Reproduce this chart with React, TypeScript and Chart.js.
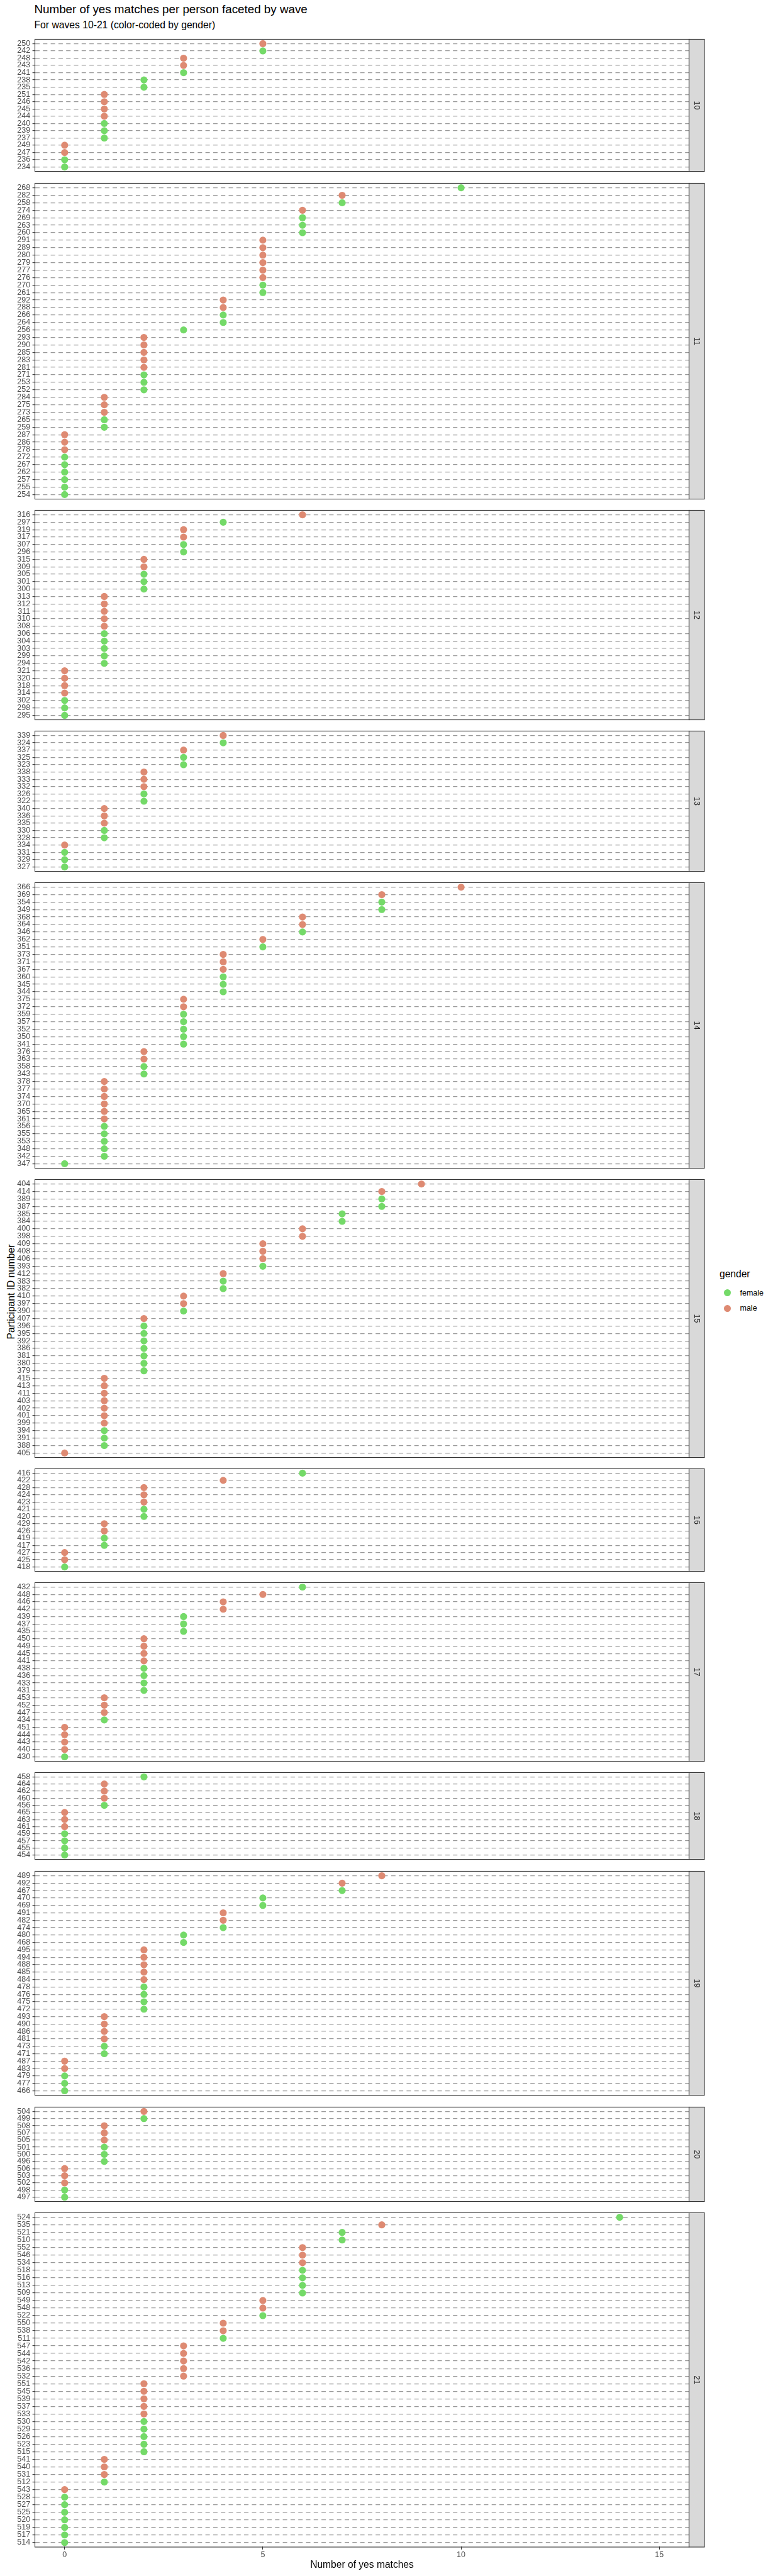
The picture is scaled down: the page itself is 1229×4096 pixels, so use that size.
import { useEffect, useRef } from 'react';
import { Chart, registerables } from 'chart.js';

Chart.register(...registerables);

const FONT = '"Liberation Sans", Arial, Helvetica, sans-serif';

// ---------------- DATA ----------------
const waveNumbers = [10, 11, 12, 13, 14, 15, 16, 17, 18, 19, 20, 21];
const xTickValues = [0, 5, 10, 15];
const genderLevels = ['female', 'male'];

const wave10Ids = ['250','242','248','243','241','238','235','251','246','245','244','240','239','237','249','247','236','234'];
const wave10Matches = [5,5,3,3,3,2,2,1,1,1,1,1,1,1,0,0,0,0];
const wave10Gender = ['M','F','M','M','F','F','F','M','M','M','M','F','F','F','M','M','F','F'];

const wave11Ids = ['268','282','258','274','269','263','260','291','289','280','279','277','276','270','261','292','288','266','264','256','293','290','285','283','281','271','253','252','284','275','273','265','259','287','286','278','272','267','262','257','255','254'];
const wave11Matches = [10,7,7,6,6,6,6,5,5,5,5,5,5,5,5,4,4,4,4,3,2,2,2,2,2,2,2,2,1,1,1,1,1,0,0,0,0,0,0,0,0,0];
const wave11Gender = ['F','M','F','M','F','F','F','M','M','M','M','M','M','F','F','M','M','F','F','F','M','M','M','M','M','F','F','F','M','M','M','F','F','M','M','M','F','F','F','F','F','F'];

const wave12Ids = ['316','297','319','317','307','296','315','309','305','301','300','313','312','311','310','308','306','304','303','299','294','321','320','318','314','302','298','295'];
const wave12Matches = [6,4,3,3,3,3,2,2,2,2,2,1,1,1,1,1,1,1,1,1,1,0,0,0,0,0,0,0];
const wave12Gender = ['M','F','M','M','F','F','M','M','F','F','F','M','M','M','M','M','F','F','F','F','F','M','M','M','M','F','F','F'];

const wave13Ids = ['339','324','337','325','323','338','333','332','326','322','340','336','335','330','328','334','331','329','327'];
const wave13Matches = [4,4,3,3,3,2,2,2,2,2,1,1,1,1,1,0,0,0,0];
const wave13Gender = ['M','F','M','F','F','M','M','M','F','F','M','M','M','F','F','M','F','F','F'];

const wave14Ids = ['366','369','354','349','368','364','346','362','351','373','371','367','360','345','344','375','372','359','357','352','350','341','376','363','358','343','378','377','374','370','365','361','356','355','353','348','342','347'];
const wave14Matches = [10,8,8,8,6,6,6,5,5,4,4,4,4,4,4,3,3,3,3,3,3,3,2,2,2,2,1,1,1,1,1,1,1,1,1,1,1,0];
const wave14Gender = ['M','M','F','F','M','M','F','M','F','M','M','M','F','F','F','M','M','F','F','F','F','F','M','M','F','F','M','M','M','M','M','M','F','F','F','F','F','F'];

const wave15Ids = ['404','414','389','387','385','384','400','398','409','408','406','393','412','383','382','410','397','390','407','396','395','392','386','381','380','379','415','413','411','403','402','401','399','394','391','388','405'];
const wave15Matches = [9,8,8,8,7,7,6,6,5,5,5,5,4,4,4,3,3,3,2,2,2,2,2,2,2,2,1,1,1,1,1,1,1,1,1,1,0];
const wave15Gender = ['M','M','F','F','F','F','M','M','M','M','M','F','M','F','F','M','M','F','M','F','F','F','F','F','F','F','M','M','M','M','M','M','M','F','F','F','M'];

const wave16Ids = ['416','422','428','424','423','421','420','429','426','419','417','427','425','418'];
const wave16Matches = [6,4,2,2,2,2,2,1,1,1,1,0,0,0];
const wave16Gender = ['F','M','M','M','M','F','F','M','M','F','F','M','M','F'];

const wave17Ids = ['432','448','446','442','439','437','435','450','449','445','441','438','436','433','431','453','452','447','434','451','444','443','440','430'];
const wave17Matches = [6,5,4,4,3,3,3,2,2,2,2,2,2,2,2,1,1,1,1,0,0,0,0,0];
const wave17Gender = ['F','M','M','M','F','F','F','M','M','M','M','F','F','F','F','M','M','M','F','M','M','M','M','F'];

const wave18Ids = ['458','464','462','460','456','465','463','461','459','457','455','454'];
const wave18Matches = [2,1,1,1,1,0,0,0,0,0,0,0];
const wave18Gender = ['F','M','M','M','F','M','M','M','F','F','F','F'];

const wave19Ids = ['489','492','467','470','469','491','482','474','480','468','495','494','488','485','484','478','476','475','472','493','490','486','481','473','471','487','483','479','477','466'];
const wave19Matches = [8,7,7,5,5,4,4,4,3,3,2,2,2,2,2,2,2,2,2,1,1,1,1,1,1,0,0,0,0,0];
const wave19Gender = ['M','M','F','F','F','M','M','F','F','F','M','M','M','M','M','F','F','F','F','M','M','M','M','F','F','M','M','F','F','F'];

const wave20Ids = ['504','499','508','507','505','501','500','496','506','503','502','498','497'];
const wave20Matches = [2,2,1,1,1,1,1,1,0,0,0,0,0];
const wave20Gender = ['M','F','M','M','M','F','F','F','M','M','M','F','F'];

const wave21Ids = ['524','535','521','510','552','546','534','518','516','513','509','549','548','522','550','538','511','547','544','542','536','532','551','545','539','537','533','530','529','526','523','515','541','540','531','512','543','528','527','525','520','519','517','514'];
const wave21Matches = [14,8,7,7,6,6,6,6,6,6,6,5,5,5,4,4,4,3,3,3,3,3,2,2,2,2,2,2,2,2,2,2,1,1,1,1,0,0,0,0,0,0,0,0];
const wave21Gender = ['F','M','F','F','M','M','M','F','F','F','F','M','M','F','M','M','F','M','M','M','M','M','M','M','M','M','M','F','F','F','F','F','M','M','M','F','M','F','F','F','F','F','F','F'];

const waveIds = [wave10Ids, wave11Ids, wave12Ids, wave13Ids, wave14Ids, wave15Ids, wave16Ids, wave17Ids, wave18Ids, wave19Ids, wave20Ids, wave21Ids];
const waveMatches = [wave10Matches, wave11Matches, wave12Matches, wave13Matches, wave14Matches, wave15Matches, wave16Matches, wave17Matches, wave18Matches, wave19Matches, wave20Matches, wave21Matches];
const waveGender = [wave10Gender, wave11Gender, wave12Gender, wave13Gender, wave14Gender, wave15Gender, wave16Gender, wave17Gender, wave18Gender, wave19Gender, wave20Gender, wave21Gender];

// ---------------- STYLE / LAYOUT ----------------
const COLOR_FEMALE = '#74DA68';
const COLOR_MALE = '#DE8A72';
const ROW = 12.135;
const GAP = 8.43;
const TOP = 57.07;
const EXT = 0.1 * ROW;
const PANEL_LEFT = 55.5;
const PANEL_RIGHT = 1095.5;
const STRIP_W = 24.5;
const CANVAS_W = 1125;
const XAXIS_H = 42;
const POINT_R = 5.6;

type Layout = { rectTop: number; rectBottom: number; canvasTop: number; canvasH: number; padTop: number; padBottom: number };

const layouts: Layout[] = (() => {
  const out: Layout[] = [];
  let y = TOP;
  waveIds.forEach((ids, i) => {
    const isLast = i === waveIds.length - 1;
    const rectTop = y;
    const rectBottom = y + (ids.length + 0.2) * ROW;
    const canvasTop = Math.floor(rectTop) - 3;
    let canvasH: number;
    let padBottom: number;
    if (isLast) {
      const axisBottom = rectBottom - EXT + XAXIS_H;
      canvasH = Math.ceil(axisBottom + 1) - canvasTop;
      padBottom = canvasTop + canvasH - axisBottom;
    } else {
      canvasH = Math.ceil(rectBottom) + 3 - canvasTop;
      padBottom = canvasTop + canvasH - (rectBottom - EXT);
    }
    const padTop = rectTop + EXT - canvasTop;
    out.push({ rectTop, rectBottom, canvasTop, canvasH, padTop, padBottom });
    y = rectBottom + GAP;
  });
  return out;
})();

const panelFrame = {
  id: 'panelFrame',
  afterDraw(chart: any, _args: any, opts: any) {
    const { ctx, chartArea } = chart;
    const top = chartArea.top - EXT;
    const bottom = chartArea.bottom + EXT;
    const left = chartArea.left;
    const right = chartArea.right;
    ctx.save();
    ctx.fillStyle = '#D9D9D9';
    ctx.fillRect(right, top, STRIP_W, bottom - top);
    ctx.strokeStyle = '#333333';
    ctx.lineWidth = 1.1;
    ctx.strokeRect(right, top, STRIP_W, bottom - top);
    ctx.strokeRect(left, top, right - left, bottom - top);
    ctx.translate(right + STRIP_W / 2, (top + bottom) / 2);
    ctx.rotate(Math.PI / 2);
    ctx.fillStyle = '#1A1A1A';
    ctx.font = `12.5px ${FONT}`;
    ctx.textAlign = 'center';
    ctx.textBaseline = 'middle';
    ctx.fillText(String(opts.label), 0, 0);
    ctx.restore();
  },
};

export default function App() {
  const canvasRefs = useRef<(HTMLCanvasElement | null)[]>([]);

  useEffect(() => {
    Chart.defaults.font.family = FONT;
    const charts = waveIds.map((ids, i) => {
      const canvas = canvasRefs.current[i] as HTMLCanvasElement;
      const L = layouts[i];
      const isLast = i === waveIds.length - 1;
      const female: { x: number; y: string }[] = [];
      const male: { x: number; y: string }[] = [];
      ids.forEach((id, k) => {
        const p = { x: waveMatches[i][k], y: id };
        if (waveGender[i][k] === 'F') female.push(p);
        else male.push(p);
      });
      const ds = (label: string, data: any[], color: string) => ({
        label,
        data,
        backgroundColor: color,
        borderColor: color,
        pointBackgroundColor: color,
        pointBorderWidth: 0,
        pointRadius: POINT_R,
        pointHoverRadius: POINT_R,
        showLine: false,
        clip: false as any,
      });
      return new Chart(canvas, {
        type: 'scatter',
        data: {
          datasets: [
            ds(genderLevels[0], female, COLOR_FEMALE),
            ds(genderLevels[1], male, COLOR_MALE),
          ],
        },
        plugins: [panelFrame],
        options: {
          responsive: false,
          animation: false,
          devicePixelRatio: 1,
          events: [],
          layout: {
            padding: { left: 0, right: CANVAS_W - PANEL_RIGHT, top: L.padTop, bottom: L.padBottom },
          },
          plugins: {
            legend: { display: false },
            tooltip: { enabled: false },
            title: { display: false },
            panelFrame: { label: waveNumbers[i] },
          } as any,
          scales: {
            x: {
              type: 'linear',
              min: -0.75,
              max: 15.75,
              display: isLast,
              afterBuildTicks: (s: any) => {
                s.ticks = xTickValues.map((v) => ({ value: v }));
              },
              afterFit: isLast
                ? (s: any) => {
                    s.height = XAXIS_H;
                  }
                : undefined,
              grid: {
                display: true,
                drawOnChartArea: false,
                drawTicks: true,
                tickLength: 3.9 + EXT,
                tickColor: '#333333',
                tickWidth: 1.1,
              },
              border: { display: false },
              ticks: { color: '#4D4D4D', font: { size: 12.5 }, padding: 1.1, maxRotation: 0, autoSkip: false },
              title: {
                display: true,
                text: 'Number of yes matches',
                color: '#000000',
                font: { size: 15.6 },
                padding: { top: 0, bottom: 2.44 },
              },
            },
            y: {
              type: 'category',
              labels: ids,
              offset: true,
              afterFit: (s: any) => {
                s.width = PANEL_LEFT;
              },
              grid: {
                color: '#999999',
                lineWidth: 1.3,
                drawTicks: true,
                tickLength: 3.9,
                tickColor: '#333333',
                tickWidth: 1.1,
              },
              border: { display: false, dash: [7, 5.3] },
              ticks: { autoSkip: false, color: '#4D4D4D', font: { size: 12.5, lineHeight: 1 }, padding: 3.4 },
            },
          } as any,
        },
      });
    });
    return () => charts.forEach((c) => c.destroy());
  }, []);

  const legendY = [2055.8, 2080.4];
  const legendColors = [COLOR_FEMALE, COLOR_MALE];

  return (
    <div
      style={{
        position: 'absolute',
        left: 0,
        top: 0,
        width: 1229,
        height: 4096,
        background: '#ffffff',
        overflow: 'hidden',
        fontFamily: FONT,
        color: '#000',
      }}
    >
      <div style={{ position: 'absolute', left: 54.5, top: 6.2, fontSize: 18.8, lineHeight: '18.8px', whiteSpace: 'nowrap' }}>
        Number of yes matches per person faceted by wave
      </div>
      <div style={{ position: 'absolute', left: 54.5, top: 31.8, fontSize: 15.7, lineHeight: '15.7px', whiteSpace: 'nowrap' }}>
        For waves 10-21 (color-coded by gender)
      </div>
      <div
        style={{
          position: 'absolute',
          left: 18,
          top: 2053.6,
          fontSize: 15.6,
          lineHeight: '15.6px',
          whiteSpace: 'nowrap',
          transform: 'translate(-50%, -50%) rotate(-90deg)',
        }}
      >
        Participant ID number
      </div>
      {layouts.map((L, i) => (
        <canvas
          key={i}
          ref={(el) => {
            canvasRefs.current[i] = el;
          }}
          width={CANVAS_W}
          height={L.canvasH}
          style={{ position: 'absolute', left: 0, top: L.canvasTop, width: CANVAS_W, height: L.canvasH }}
        />
      ))}
      <div style={{ position: 'absolute', left: 1144, top: 2018.2, fontSize: 15.6, lineHeight: '15.6px', whiteSpace: 'nowrap' }}>
        gender
      </div>
      {genderLevels.map((g, k) => (
        <div key={g}>
          <div
            style={{
              position: 'absolute',
              left: 1156.4 - POINT_R,
              top: legendY[k] - POINT_R,
              width: POINT_R * 2,
              height: POINT_R * 2,
              borderRadius: '50%',
              background: legendColors[k],
            }}
          />
          <div
            style={{
              position: 'absolute',
              left: 1176.5,
              top: legendY[k] - 6.25,
              fontSize: 12.5,
              lineHeight: '12.5px',
              whiteSpace: 'nowrap',
            }}
          >
            {g}
          </div>
        </div>
      ))}
    </div>
  );
}
